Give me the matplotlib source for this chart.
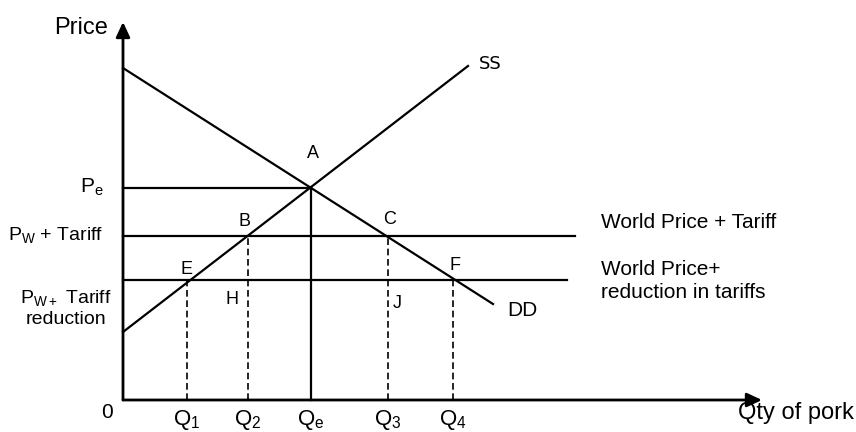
import matplotlib
matplotlib.use("Agg")
import matplotlib.pyplot as plt

plt.rcParams['font.family'] = ['Liberation Sans', 'DejaVu Sans']
plt.rcParams['mathtext.default'] = 'regular'

# curves (quantity, price), arbitrary units
demand_q = [0, 370]
demand_p = [332, 96]
supply_q = [0, 345]
supply_p = [68, 334]

# price levels
p_e = 212
p_tariff = 164
p_reduced = 120

# quantities
q_e = 188
q1, q2, q3, q4 = 64, 125, 265, 330
tariff_line_end = 452
reduced_line_end = 444

q_labels = ['Q$_1$', 'Q$_2$', 'Q$_e$', 'Q$_3$', 'Q$_4$']
q_values = [q1, q2, q_e, q3, q4]

point_labels = ['A', 'B', 'C', 'E', 'F', 'H', 'J']
point_q = [190, 121, 267, 64, 332, 109, 274]
point_p = [247, 179, 180, 130, 135, 100, 97]

fig = plt.figure(figsize=(8.56, 4.32), dpi=100)
ax = fig.add_axes([0, 0, 1, 1])
ax.set_xlim(-123, 733)
ax.set_ylim(-32, 400)
ax.axis('off')

lw = 1.6
# axes with arrows
arrow = dict(arrowstyle='-|>,head_length=0.9,head_width=0.42',
             lw=2, color='black', shrinkA=0, shrinkB=0)
ax.annotate('', xy=(0, 378), xytext=(0, 0), arrowprops=arrow)
ax.annotate('', xy=(639, 0), xytext=(0, 0), arrowprops=arrow)

# supply and demand
ax.plot(demand_q, demand_p, color='black', lw=lw)
ax.plot(supply_q, supply_p, color='black', lw=lw)

# price lines
ax.plot([0, q_e], [p_e, p_e], color='black', lw=lw)
ax.plot([0, tariff_line_end], [p_tariff, p_tariff], color='black', lw=lw)
ax.plot([0, reduced_line_end], [p_reduced, p_reduced], color='black', lw=lw)

# equilibrium quantity (solid)
ax.plot([q_e, q_e], [0, p_e], color='black', lw=lw)

# dashed drops
for q, p in [(q1, p_reduced), (q2, p_tariff), (q3, p_tariff), (q4, p_reduced)]:
    ax.plot([q, q], [0, p], color='black', lw=1.2, dashes=[4, 2.2])

# axis texts
ax.text(-15, 372, 'Price', fontsize=17, ha='right', va='center')
ax.text(-19, 213, 'P$_e$', fontsize=15, ha='right', va='center')
ax.text(-20, 165, 'P$_W$ + Tariff', fontsize=14, ha='right', va='center')
ax.text(-57, 92, 'P$_{W+}$ Tariff\nreduction', fontsize=14, ha='center',
        va='center', linespacing=1.25)
ax.text(-16, -13, '0', fontsize=15, ha='center', va='center')
ax.text(615, -13, 'Qty of pork', fontsize=17, ha='left', va='center')

for lab, q in zip(q_labels, q_values):
    ax.text(q, -20, lab, fontsize=16, ha='center', va='center')

for lab, q, p in zip(point_labels, point_q, point_p):
    ax.text(q, p, lab, fontsize=13, ha='center', va='center')

ax.text(399, 90, 'DD', fontsize=15, ha='center', va='center')
ax.text(367, 336, 'SS', fontsize=13, ha='center', va='center', family='DejaVu Sans')

ax.text(478, 177, 'World Price + Tariff', fontsize=15, ha='left', va='center')
ax.text(478, 119, 'World Price+\nreduction in tariffs', fontsize=15, ha='left',
        va='center', linespacing=1.3)

fig.savefig('out.png', dpi=100)
